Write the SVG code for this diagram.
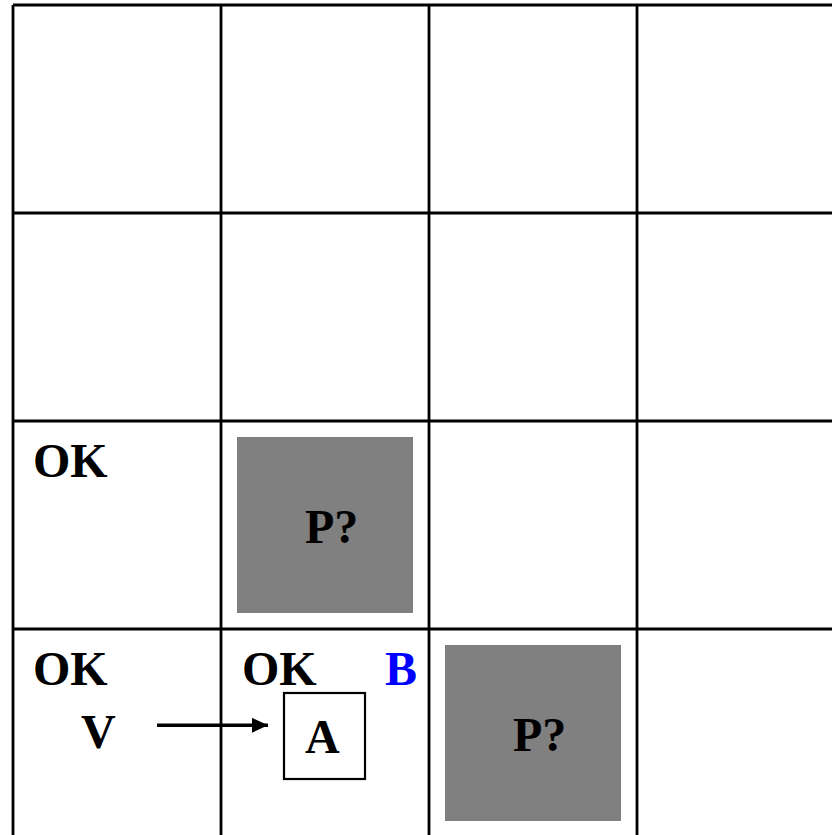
<svg xmlns="http://www.w3.org/2000/svg" width="832" height="835" viewBox="0 0 832 835">
  <style>
    .grid { stroke: #000; stroke-width: 2.8; fill: none; }
    .pit { fill: #808080; }
    .lbl { font-family: "Liberation Serif", "Times New Roman", serif; font-weight: bold; font-size: 48px; fill: #000; }
    .blue { fill: #0000ff; }
  </style>
  <defs>
    <marker id="arrowhead" markerWidth="16" markerHeight="15" refX="16" refY="7.5" orient="auto" markerUnits="userSpaceOnUse">
      <path d="M0,0 L16,7.5 L0,15 Z" fill="#000"/>
    </marker>
  </defs>
  <rect width="832" height="835" fill="#fff"/>

  <!-- 4x4 world grid -->
  <g id="grid" class="grid">
    <line x1="13" y1="5" x2="832" y2="5"/>
    <line x1="13" y1="213" x2="832" y2="213"/>
    <line x1="13" y1="421" x2="832" y2="421"/>
    <line x1="13" y1="629" x2="832" y2="629"/>
    <line x1="13" y1="5" x2="13" y2="835"/>
    <line x1="221" y1="5" x2="221" y2="835"/>
    <line x1="429" y1="5" x2="429" y2="835"/>
    <line x1="637" y1="5" x2="637" y2="835"/>
  </g>

  <!-- cell labels -->
  <g id="cell-1-2">
    <text class="lbl" x="33" y="477">OK</text>
  </g>
  <g id="cell-2-2">
    <rect class="pit" x="237" y="437" width="176" height="176"/>
    <text class="lbl" x="305" y="543">P?</text>
  </g>
  <g id="cell-1-1">
    <text class="lbl" x="33" y="685">OK</text>
    <text class="lbl" x="81" y="748">V</text>
  </g>
  <g id="cell-2-1">
    <text class="lbl" x="242" y="685">OK</text>
    <text class="lbl blue" x="385" y="685">B</text>
  </g>
  <g id="agent">
    <rect x="284" y="693" width="81" height="86" fill="#fff" stroke="#000" stroke-width="2.2"/>
    <text class="lbl" x="305" y="753">A</text>
  </g>
  <g id="cell-3-1">
    <rect class="pit" x="445" y="645" width="176" height="176"/>
    <text class="lbl" x="513" y="751">P?</text>
  </g>

  <!-- move arrow -->
  <g id="connectors">
    <line x1="157" y1="725.3" x2="268" y2="725.3" stroke="#000" stroke-width="3.6" marker-end="url(#arrowhead)"/>
  </g>
</svg>
